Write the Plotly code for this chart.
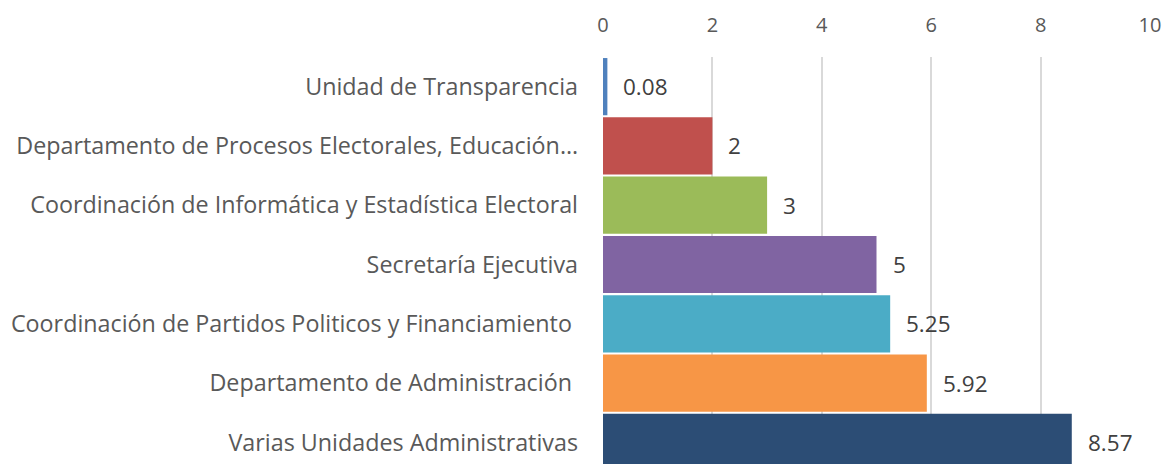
import plotly.graph_objects as go

categories = [
    "Unidad de Transparencia",
    "Departamento de Procesos Electorales, Educación…",
    "Coordinación de Informática y Estadística Electoral",
    "Secretaría Ejecutiva",
    "Coordinación de Partidos Politicos y Financiamiento ",
    "Departamento de Administración ",
    "Varias Unidades Administrativas",
]
values = [0.08, 2, 3, 5, 5.25, 5.92, 8.57]
labels = ["0.08", "2", "3", "5", "5.25", "5.92", "8.57"]
colors = ["#4F81BD", "#C0504D", "#9BBB59", "#8064A2", "#4BACC6", "#F79646", "#2C4D75"]
x_ticks = [0, 2, 4, 6, 8, 10]

FONT = "Open Sans"

fig = go.Figure()
fig.add_trace(go.Bar(
    y=categories,
    x=values,
    orientation="h",
    marker=dict(color=colors, line=dict(width=0)),
    hoverinfo="skip",
))

for c, v, t in zip(categories, values, labels):
    fig.add_annotation(
        x=v, y=c, text=t, showarrow=False,
        xanchor="left", xshift=14,
        font=dict(family=FONT, size=22.5, color="#404040"),
    )

fig.update_layout(
    width=1165, height=464,
    margin=dict(l=603, r=15, t=57, b=0, autoexpand=False),
    paper_bgcolor="white", plot_bgcolor="white",
    bargap=0.035,
    showlegend=False,
    font=dict(family=FONT, size=22, color="#595959"),
    xaxis=dict(
        side="top", range=[0, 10], tickvals=x_ticks,
        showgrid=True, gridcolor="#D9D9D9", gridwidth=1.5,
        zeroline=False, showline=False, ticks="",
        ticklabelstandoff=20, automargin=False,
        tickfont=dict(family=FONT, size=20, color="#595959"),
    ),
    yaxis=dict(
        type="category", range=[6.365, -0.5],
        showgrid=False, zeroline=False, showline=False, ticks="",
        ticklabelstandoff=24, automargin=False,
        tickfont=dict(family=FONT, size=23.3, color="#595959"),
    ),
)

fig.write_html(
    "out.html",
    config={"displayModeBar": False},
    post_script="document.body.style.margin='0';document.body.style.overflow='hidden';",
)
